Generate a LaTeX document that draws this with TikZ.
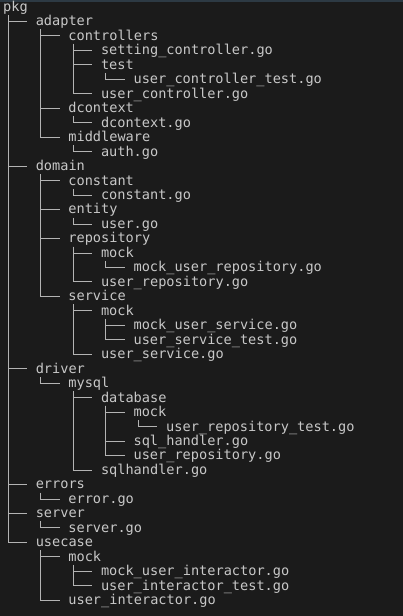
\documentclass[tikz,border=0pt]{standalone}
\usepackage{fontspec}
\newfontfamily\termfont{DejaVu Sans Mono}
\definecolor{bgc}{HTML}{1B1B1B}
\definecolor{txtc}{HTML}{C8C8C8}
\definecolor{linec}{HTML}{B4B4B4}
\definecolor{topc}{HTML}{2D3A44}
\tikzset{
  entry/.style={anchor=base west, inner sep=0pt, outer sep=0pt, text=txtc,
    font=\termfont\fontsize{13.6}{14.5}\selectfont},
  branch/.style={draw=linec, line width=0.9pt}
}
\newcommand\ent[4]{\node[entry] (#1) at ({(3.2+32.6*#3)*1pt},{-(11.4+14.47*#2)*1pt}) {#4};}
\newcommand\br[2]{\draw[branch] ([xshift=4.8pt,yshift=-3.6pt]#1.base west) |- ([xshift=-8.8pt,yshift=4.4pt]#2.base west);}
\begin{document}
\begin{tikzpicture}
\fill[bgc] (0,0) rectangle (403pt,-616pt);
\useasboundingbox (0,0) rectangle (403pt,-616pt);
\fill[topc] (0,0) rectangle (403pt,-1.5pt);
\ent{n0}{0}{0}{pkg}
\ent{n1}{1}{1}{adapter}
\ent{n2}{2}{2}{controllers}
\ent{n3}{3}{3}{setting\_controller.go}
\ent{n4}{4}{3}{test}
\ent{n5}{5}{4}{user\_controller\_test.go}
\ent{n6}{6}{3}{user\_controller.go}
\ent{n7}{7}{2}{dcontext}
\ent{n8}{8}{3}{dcontext.go}
\ent{n9}{9}{2}{middleware}
\ent{n10}{10}{3}{auth.go}
\ent{n11}{11}{1}{domain}
\ent{n12}{12}{2}{constant}
\ent{n13}{13}{3}{constant.go}
\ent{n14}{14}{2}{entity}
\ent{n15}{15}{3}{user.go}
\ent{n16}{16}{2}{repository}
\ent{n17}{17}{3}{mock}
\ent{n18}{18}{4}{mock\_user\_repository.go}
\ent{n19}{19}{3}{user\_repository.go}
\ent{n20}{20}{2}{service}
\ent{n21}{21}{3}{mock}
\ent{n22}{22}{4}{mock\_user\_service.go}
\ent{n23}{23}{4}{user\_service\_test.go}
\ent{n24}{24}{3}{user\_service.go}
\ent{n25}{25}{1}{driver}
\ent{n26}{26}{2}{mysql}
\ent{n27}{27}{3}{database}
\ent{n28}{28}{4}{mock}
\ent{n29}{29}{5}{user\_repository\_test.go}
\ent{n30}{30}{4}{sql\_handler.go}
\ent{n31}{31}{4}{user\_repository.go}
\ent{n32}{32}{3}{sqlhandler.go}
\ent{n33}{33}{1}{errors}
\ent{n34}{34}{2}{error.go}
\ent{n35}{35}{1}{server}
\ent{n36}{36}{2}{server.go}
\ent{n37}{37}{1}{usecase}
\ent{n38}{38}{2}{mock}
\ent{n39}{39}{3}{mock\_user\_interactor.go}
\ent{n40}{40}{3}{user\_interactor\_test.go}
\ent{n41}{41}{2}{user\_interactor.go}
% branches
\br{n0}{n1}\br{n0}{n11}\br{n0}{n25}\br{n0}{n33}\br{n0}{n35}\br{n0}{n37}
\br{n1}{n2}\br{n1}{n7}\br{n1}{n9}
\br{n2}{n3}\br{n2}{n4}\br{n2}{n6}
\br{n4}{n5}
\br{n7}{n8}
\br{n9}{n10}
\br{n11}{n12}\br{n11}{n14}\br{n11}{n16}\br{n11}{n20}
\br{n12}{n13}
\br{n14}{n15}
\br{n16}{n17}\br{n16}{n19}
\br{n17}{n18}
\br{n20}{n21}\br{n20}{n24}
\br{n21}{n22}\br{n21}{n23}
\br{n25}{n26}
\br{n26}{n27}\br{n26}{n32}
\br{n27}{n28}\br{n27}{n30}\br{n27}{n31}
\br{n28}{n29}
\br{n33}{n34}
\br{n35}{n36}
\br{n37}{n38}\br{n37}{n41}
\br{n38}{n39}\br{n38}{n40}
\end{tikzpicture}
\end{document}
